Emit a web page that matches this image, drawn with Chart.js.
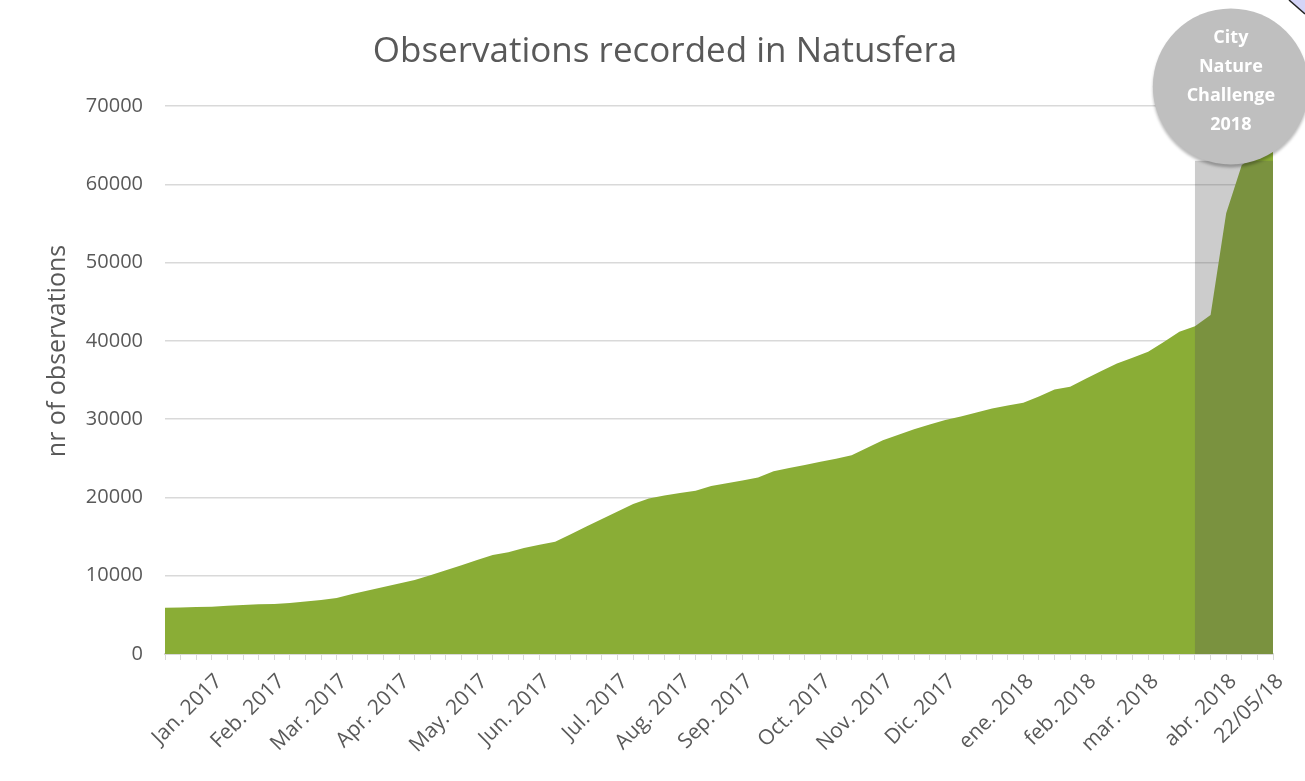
<!DOCTYPE html>
<html>
<head>
<meta charset="utf-8">
<script src="https://cdn.jsdelivr.net/npm/chart.js@4.4.1/dist/chart.umd.min.js"></script>
<style>
  html, body { margin: 0; padding: 0; background: #fff; }
  #wrap { width: 1305px; height: 781px; position: relative; }
</style>
</head>
<body>
<div id="wrap"><canvas id="obsChart"></canvas></div>
<script>
// Cumulative observations, one value per week (Jan 2017 -> 22/05/18)
const observations = [
  5900, 5950, 6000, 6050, 6150, 6250, 6350, 6400, 6500, 6700,
  6900, 7150, 7650, 8100, 8550, 9000, 9450, 10050, 10700, 11350,
  12000, 12650, 13000, 13550, 13950, 14350, 15300, 16300, 17250, 18200,
  19150, 19850, 20250, 20550, 20850, 21450, 21800, 22150, 22550, 23350,
  23750, 24150, 24550, 24950, 25400, 26350, 27300, 28000, 28700, 29300,
  29900, 30350, 30850, 31350, 31750, 32100, 32900, 33800, 34150, 35150,
  36150, 37100, 37850, 38600, 39850, 41150, 41850, 43300, 56300, 62450,
  63800, 64600
];

// Which weeks carry a month label, and the labels themselves
const labelWeeks = [3, 7, 11, 15, 20, 24, 29, 33, 37, 42, 46, 50, 55, 59, 63, 68, 71];
const labelNames = [
  'Jan. 2017', 'Feb. 2017', 'Mar. 2017', 'Apr. 2017', 'May. 2017', 'Jun. 2017',
  'Jul. 2017', 'Aug. 2017', 'Sep. 2017', 'Oct. 2017', 'Nov. 2017', 'Dic. 2017',
  'ene. 2018', 'feb. 2018', 'mar. 2018', 'abr. 2018', '22/05/18'
];

// y axis
const yMax = 70000;
const yStep = 10000;

// City Nature Challenge highlight (week range + top of the box) and badge text
const challengeStart = 66;
const challengeEnd = 71;
const challengeTop = 63000;
const badgeLines = ['City', 'Nature', 'Challenge', '2018'];

const chartTitle = 'Observations recorded in Natusfera';
const yTitle = 'nr of observations';

const weeks = observations.map((v, i) => {
  const k = labelWeeks.indexOf(i);
  return k >= 0 ? labelNames[k] : '';
});

const textGrey = '#595959';
const lineGrey = '#d9d9d9';
const font = "'Open Sans', sans-serif";

// titles drawn by hand so they can sit where Excel put them
const titles = {
  id: 'titles',
  afterDraw(chart) {
    const { ctx } = chart;
    ctx.save();
    ctx.fillStyle = textGrey;
    ctx.textAlign = 'center';
    ctx.textBaseline = 'middle';
    ctx.font = "35px " + font;
    ctx.fillText(chartTitle, 665, 52);

    ctx.translate(58, 351);
    ctx.rotate(-Math.PI / 2);
    ctx.font = "25px " + font;
    ctx.fillText(yTitle, 0, 0);
    ctx.restore();
  }
};

// grey box over the challenge weeks + the round badge on top
const challengeOverlay = {
  id: 'challengeOverlay',
  afterDatasetsDraw(chart) {
    const { ctx, scales: { x, y } } = chart;
    const left = x.getPixelForValue(challengeStart);
    const right = x.getPixelForValue(challengeEnd);
    const top = y.getPixelForValue(challengeTop);
    const bottom = y.getPixelForValue(0);
    ctx.save();
    ctx.fillStyle = 'rgba(85, 85, 85, 0.3)';
    ctx.fillRect(left, top, right - left, bottom - top);
    ctx.restore();
  },
  afterDraw(chart) {
    const { ctx, scales: { x, y } } = chart;
    const cx = x.getPixelForValue(68.3);
    const cy = y.getPixelForValue(72500);
    const r = 78;

    ctx.save();
    ctx.shadowColor = 'rgba(0, 0, 0, 0.28)';
    ctx.shadowBlur = 3;
    ctx.shadowOffsetY = 3;
    ctx.beginPath();
    ctx.arc(cx, cy, r, 0, Math.PI * 2);
    ctx.fillStyle = '#bfbfbf';
    ctx.fill();
    ctx.restore();

    ctx.save();
    ctx.fillStyle = '#ffffff';
    ctx.font = "bold 18px " + font;
    ctx.textAlign = 'center';
    ctx.textBaseline = 'middle';
    badgeLines.forEach((line, i) => {
      ctx.fillText(line, cx, cy - 49 + i * 29);
    });
    ctx.restore();

    // little corner of a shape cut off by the screenshot
    ctx.save();
    ctx.beginPath();
    ctx.moveTo(chart.width - 16, 0);
    ctx.lineTo(chart.width, 0);
    ctx.lineTo(chart.width, 14);
    ctx.closePath();
    ctx.fillStyle = '#d4d4f7';
    ctx.fill();
    ctx.beginPath();
    ctx.moveTo(chart.width - 16, 0);
    ctx.lineTo(chart.width, 14);
    ctx.strokeStyle = '#222';
    ctx.lineWidth = 1.5;
    ctx.stroke();
    ctx.restore();
  }
};

const ctx = document.getElementById('obsChart').getContext('2d');

const obsChart = new Chart(ctx, {
  type: 'line',
  data: {
    labels: weeks,
    datasets: [{
      label: 'Observations',
      data: observations,
      fill: 'origin',
      backgroundColor: '#8aad36',
      borderWidth: 0,
      pointRadius: 0,
      tension: 0
    }]
  },
  options: {
    responsive: true,
    maintainAspectRatio: false,
    animation: false,
    layout: {
      padding: { left: 0, right: 32, top: 106, bottom: 0 }
    },
    plugins: {
      legend: { display: false },
      tooltip: { enabled: false },
      title: { display: false }
    },
    scales: {
      x: {
        offset: false,
        grid: {
          display: true,
          drawOnChartArea: false,
          drawTicks: true,
          tickLength: 6,
          color: lineGrey
        },
        border: { display: true, color: lineGrey, width: 2 },
        ticks: {
          autoSkip: false,
          minRotation: 45,
          maxRotation: 45,
          padding: 9,
          labelOffset: 7,
          color: textGrey,
          font: { family: font, size: 21 }
        },
        afterFit(scale) {
          scale.height = 127;
        }
      },
      y: {
        min: 0,
        max: yMax,
        ticks: {
          stepSize: yStep,
          padding: 22,
          color: textGrey,
          font: { family: font, size: 20 },
          callback: (value) => String(value)
        },
        grid: {
          color: lineGrey,
          lineWidth: 1.5,
          drawTicks: false
        },
        border: { display: false },
        afterFit(scale) {
          scale.width = 165;
        }
      }
    }
  },
  plugins: [challengeOverlay, titles]
});
</script>
</body>
</html>
